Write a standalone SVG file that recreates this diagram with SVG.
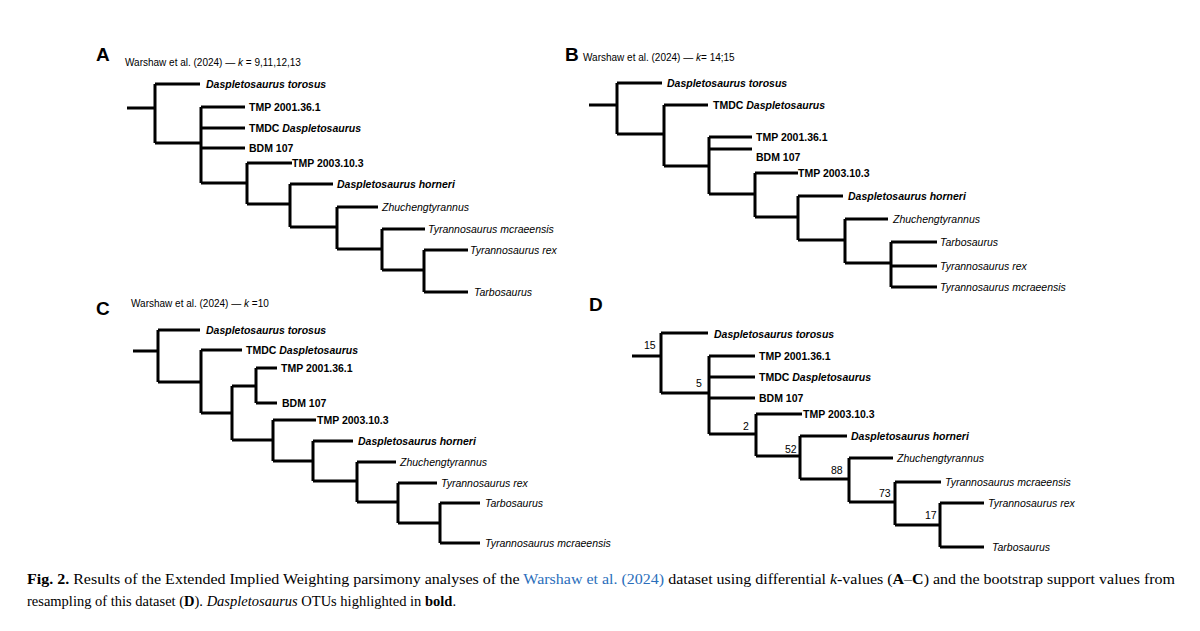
<svg xmlns="http://www.w3.org/2000/svg" width="1200" height="631" viewBox="0 0 1200 631">
<style>
.t{fill:none;stroke:#000;stroke-width:3;stroke-linecap:butt;stroke-linejoin:miter}
text{font-family:"Liberation Sans",Arial,sans-serif;fill:#000}
.L{font-size:19px;font-weight:bold}
.s{font-size:10px}
.b{font-size:10.5px;font-weight:bold}
.bi{font-size:10.5px;font-weight:bold;font-style:italic}
.i{font-size:10.5px;font-style:italic}
.n{font-size:10.5px}
.c{font-family:"Liberation Serif","Times New Roman",serif;font-size:14.5px}
</style>
<rect width="1200" height="631" fill="#fff"/>
<g id="panelA">
<text class="L" x="96" y="61">A</text>
<text class="s" x="125" y="66">Warshaw et al. (2024) — <tspan font-style="italic">k</tspan> = 9,11,12,13</text>
<g id="connectorsA"><path class="t" d="M127 108H155M155 84V143M155 84H200M155 143H201M201 107V183M201 107H245M201 128H245M201 148H245M201 183H247M247 163V204M247 163H292M247 204H290M290 184V227M290 184H333M290 227H337M337 207V249M337 207H378M337 249H382M382 229V270M382 229H425M382 270H424M424 250V292M424 250H468M424 292H468"/></g>
<g id="A-nodes">
<text class="bi" x="206" y="88">Daspletosaurus torosus</text>
<text class="b" x="249" y="111">TMP 2001.36.1</text>
<text class="b" x="249" y="132">TMDC <tspan font-style="italic">Daspletosaurus</tspan></text>
<text class="b" x="249" y="152">BDM 107</text>
<text class="b" x="292" y="167">TMP 2003.10.3</text>
<text class="bi" x="337" y="188">Daspletosaurus horneri</text>
<text class="i" x="382" y="211">Zhuchengtyrannus</text>
<text class="i" x="428" y="233">Tyrannosaurus mcraeensis</text>
<text class="i" x="470" y="254">Tyrannosaurus rex</text>
<text class="i" x="474" y="296">Tarbosaurus</text>
</g>
</g>
<g id="panelB">
<text class="L" x="565" y="61">B</text>
<text class="s" x="583" y="61">Warshaw et al. (2024) — <tspan font-style="italic">k</tspan>= 14;15</text>
<g id="connectorsB"><path class="t" d="M589 105H617M617 83V134M617 83H662M617 134H664M664 105V166M664 105H708M664 166H709M709 137V194M709 137H752M709 149H752M709 194H755M755 173V217M755 173H798M755 217H798M798 196V240M798 196H843M798 240H845M845 219V263M845 219H888M845 263H891M891 242V287M891 242H937M891 266H937M891 287H937"/></g>
<g id="B-nodes">
<text class="bi" x="667" y="87">Daspletosaurus torosus</text>
<text class="b" x="713" y="109">TMDC <tspan font-style="italic">Daspletosaurus</tspan></text>
<text class="b" x="756" y="141">TMP 2001.36.1</text>
<text class="b" x="756" y="161">BDM 107</text>
<text class="b" x="798" y="177">TMP 2003.10.3</text>
<text class="bi" x="848" y="200">Daspletosaurus horneri</text>
<text class="i" x="893" y="223">Zhuchengtyrannus</text>
<text class="i" x="940" y="246">Tarbosaurus</text>
<text class="i" x="940" y="270">Tyrannosaurus rex</text>
<text class="i" x="940" y="291">Tyrannosaurus mcraeensis</text>
</g>
</g>
<g id="panelC">
<text class="L" x="96" y="315">C</text>
<text class="s" x="131" y="307">Warshaw et al. (2024) — <tspan font-style="italic">k</tspan> =10</text>
<g id="connectorsC"><path class="t" d="M133 351H158M158 330V382M158 330H200M158 382H201M201 350V413M201 350H242M201 413H232M232 386V440M232 386H256M256 368V403M256 368H277M256 403H277M232 440H273M273 420V461M273 420H316M273 461H313M313 441V481M313 441H353M313 481H357M357 462V502M357 462H396M357 502H398M398 483V523M398 483H437M398 523H440M440 503V543M440 503H480M440 543H480"/></g>
<g id="C-nodes">
<text class="bi" x="206" y="334">Daspletosaurus torosus</text>
<text class="b" x="246" y="354">TMDC <tspan font-style="italic">Daspletosaurus</tspan></text>
<text class="b" x="281" y="372">TMP 2001.36.1</text>
<text class="b" x="282" y="407">BDM 107</text>
<text class="b" x="317" y="424">TMP 2003.10.3</text>
<text class="bi" x="358" y="445">Daspletosaurus horneri</text>
<text class="i" x="400" y="466">Zhuchengtyrannus</text>
<text class="i" x="441" y="487">Tyrannosaurus rex</text>
<text class="i" x="485" y="507">Tarbosaurus</text>
<text class="i" x="485" y="547">Tyrannosaurus mcraeensis</text>
</g>
</g>
<g id="panelD">
<text class="L" x="589" y="311">D</text>
<g id="connectorsD"><path class="t" d="M632 356H661M661 333V393M661 333H708M661 393H709M709 356V434M709 356H755M709 377H755M709 398H755M709 434H756M756 414V456M756 414H802M756 456H800M800 436V479M800 436H847M800 479H849M849 458V502M849 458H893M849 502H895M895 482V525M895 482H941M895 525H940M940 503V547M940 503H984M940 547H984"/></g>
<g id="D-nodes">
<text class="bi" x="714" y="338">Daspletosaurus torosus</text>
<text class="b" x="759" y="360">TMP 2001.36.1</text>
<text class="b" x="759" y="381">TMDC <tspan font-style="italic">Daspletosaurus</tspan></text>
<text class="b" x="759" y="402">BDM 107</text>
<text class="b" x="803" y="418">TMP 2003.10.3</text>
<text class="bi" x="851" y="440">Daspletosaurus horneri</text>
<text class="i" x="897" y="462">Zhuchengtyrannus</text>
<text class="i" x="945" y="486">Tyrannosaurus mcraeensis</text>
<text class="i" x="988" y="507">Tyrannosaurus rex</text>
<text class="i" x="992" y="551">Tarbosaurus</text>
</g>
<g id="D-support" class="n">
<text class="n" x="644" y="349">15</text>
<text class="n" x="696" y="387">5</text>
<text class="n" x="743" y="430">2</text>
<text class="n" x="785" y="453">52</text>
<text class="n" x="831" y="474">88</text>
<text class="n" x="879" y="497">73</text>
<text class="n" x="925" y="519">17</text>
</g>
</g>
<g id="caption">
<text class="c" x="27" y="584" textLength="1148" lengthAdjust="spacingAndGlyphs"><tspan font-weight="bold">Fig. 2.</tspan>  Results of the Extended Implied Weighting parsimony analyses of the <tspan fill="#2a6ebb">Warshaw et al. (2024)</tspan> dataset using differential <tspan font-style="italic">k</tspan>-values (<tspan font-weight="bold">A</tspan>–<tspan font-weight="bold">C</tspan>) and the bootstrap support values from</text>
<text class="c" x="27" y="606">resampling of this dataset (<tspan font-weight="bold">D</tspan>). <tspan font-style="italic">Daspletosaurus</tspan> OTUs highlighted in <tspan font-weight="bold">bold</tspan>.</text>
</g>
</svg>
